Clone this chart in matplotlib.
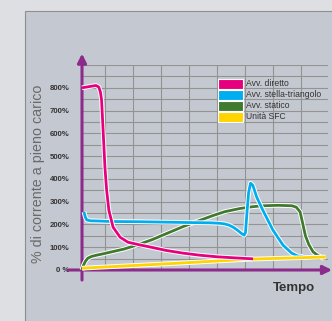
import matplotlib
matplotlib.use("Agg")
import matplotlib.pyplot as plt
import matplotlib.patheffects as pe
from matplotlib.patches import Rectangle

plt.rcParams['font.family'] = ['Liberation Sans', 'DejaVu Sans']

# time in grid units, current in % of full-load current
t_diretto = [0, 0.3, 0.5, 0.6, 0.66, 0.7, 0.76, 0.82, 0.88, 0.96, 1.11, 1.36, 1.64, 2.07, 2.43, 3.0, 3.61, 4.2, 4.82, 5.5, 6.11]
v_diretto = [800, 806, 810, 803, 780, 745, 598, 450, 350, 262, 188, 144, 122, 110, 101, 86, 74, 65, 58, 53, 49]

t_stella = [0.07, 0.12, 0.17, 0.3, 0.6, 1.0, 2.0, 3.0, 4.0, 4.6, 4.93, 5.1, 5.25, 5.4, 5.55, 5.7, 5.79, 5.84, 5.89, 5.95, 6.02, 6.1,
            6.24, 6.46, 6.82, 7.18, 7.49, 7.71, 7.9]
v_stella = [255, 232, 220, 216, 215, 213, 212, 210, 208, 207, 205, 202, 197, 188, 175, 160, 153, 165, 250, 340, 381, 372,
            320, 262, 175, 109, 74, 61, 60]

t_statico = [0, 0.05, 0.12, 0.21, 0.35, 0.52, 0.75, 1.0, 1.5, 1.95, 2.5, 3.02, 3.6, 4.21, 4.7, 5.1, 5.64, 6.1, 6.46, 7.0, 7.5, 7.65,
             7.79, 7.89, 7.98, 8.1, 8.25, 8.4, 8.55, 8.65]
v_statico = [0, 20, 38, 52, 60, 65, 71, 78, 92, 109, 133, 160, 190, 218, 240, 256, 270, 278, 282, 284, 282, 276,
             255, 200, 150, 112, 80, 66, 56, 50]

t_sfc = [0, 3.0, 6.1, 8.7]
v_sfc = [8, 27, 48, 57]

series = [
    ("Avv. diretto", "#e6007e"),
    ("Avv. stella-triangolo", "#00aeef"),
    ("Avv. statico", "#3f7a2f"),
    ("Unità SFC", "#ffd400"),
]
yticks = [0, 100, 200, 300, 400, 500, 600, 700, 800]
ytick_labels = ["0 %", "100%", "200%", "300%", "400%", "500%", "600%", "700%", "800%"]

purple = "#8c2b8c"
W, H = 332, 321

fig = plt.figure(figsize=(W / 100, H / 100), dpi=100)
fig.patch.set_facecolor("#dedfe2")
fig.add_artist(Rectangle((25 / W, -0.01), 1, 1.01 - 11 / H, transform=fig.transFigure,
                         facecolor="#c4c8d0", edgecolor="#8e8e8e", lw=0.8, zorder=-5))

ax = fig.add_axes([82 / W, (H - 270) / H, (328 - 82) / W, (270 - 65) / H])
ax.set_facecolor("none")
ax.set_xlim(0, (328 - 82) / 28)
ax.set_ylim(0, 900)
for s in ax.spines.values():
    s.set_visible(False)

# grid
for y in range(50, 901, 50):
    ax.axhline(y, color="#939393", lw=0.8, zorder=1)
for k in range(8):
    ax.axvline(0.82 + k, color="#939393", lw=0.8, zorder=1)

ax.set_xticks([])
ax.set_yticks(yticks)
ax.set_yticklabels(ytick_labels)
ax.tick_params(axis="y", length=0, pad=9, labelsize=5.6, labelcolor="#333333")
for lab in ax.get_yticklabels():
    lab.set_fontweight("bold")

# axes with arrows
ax.annotate("", xy=(0, 950), xytext=(0, -44), annotation_clip=False,
            arrowprops=dict(arrowstyle="-|>", color=purple, lw=2.2, mutation_scale=13,
                            shrinkA=0, shrinkB=0), zorder=2)
ax.annotate("", xy=(8.93, 0), xytext=(-0.5, 0), annotation_clip=False,
            arrowprops=dict(arrowstyle="-|>", color=purple, lw=2.2, mutation_scale=13,
                            shrinkA=0, shrinkB=0), zorder=2)

stroke = [pe.withStroke(linewidth=3.4, foreground="white")]
data = [(t_diretto, v_diretto), (t_stella, v_stella), (t_statico, v_statico), (t_sfc, v_sfc)]
zorders = [6, 4, 3, 5]
for (name, col), (t, v), z in zip(series, data, zorders):
    ax.plot(t, v, color=col, lw=2.0, solid_capstyle="butt", solid_joinstyle="round",
            path_effects=stroke, zorder=z, clip_on=False)

# legend
for i, (name, col) in enumerate(series):
    yc = 84 + i * 11
    fig.add_artist(Rectangle((218 / W, 1 - (yc + 5.3) / H), 25 / W, 10.6 / H, transform=fig.transFigure,
                             facecolor=col, edgecolor="white", lw=0.8, zorder=10))
    fig.text(246 / W, 1 - yc / H, name, fontsize=6.2, color="#333333", va="center", ha="left", zorder=10)

fig.text(38 / W, 1 - 174 / H, "% di corrente a pieno carico", rotation=90, fontsize=10.3,
         color="#6a6a6a", ha="center", va="center")
fig.text(294 / W, 1 - 288 / H, "Tempo", fontsize=9.5, fontweight="bold", color="#333333",
         ha="center", va="center")

fig.savefig("out.png", dpi=100, facecolor=fig.get_facecolor())
